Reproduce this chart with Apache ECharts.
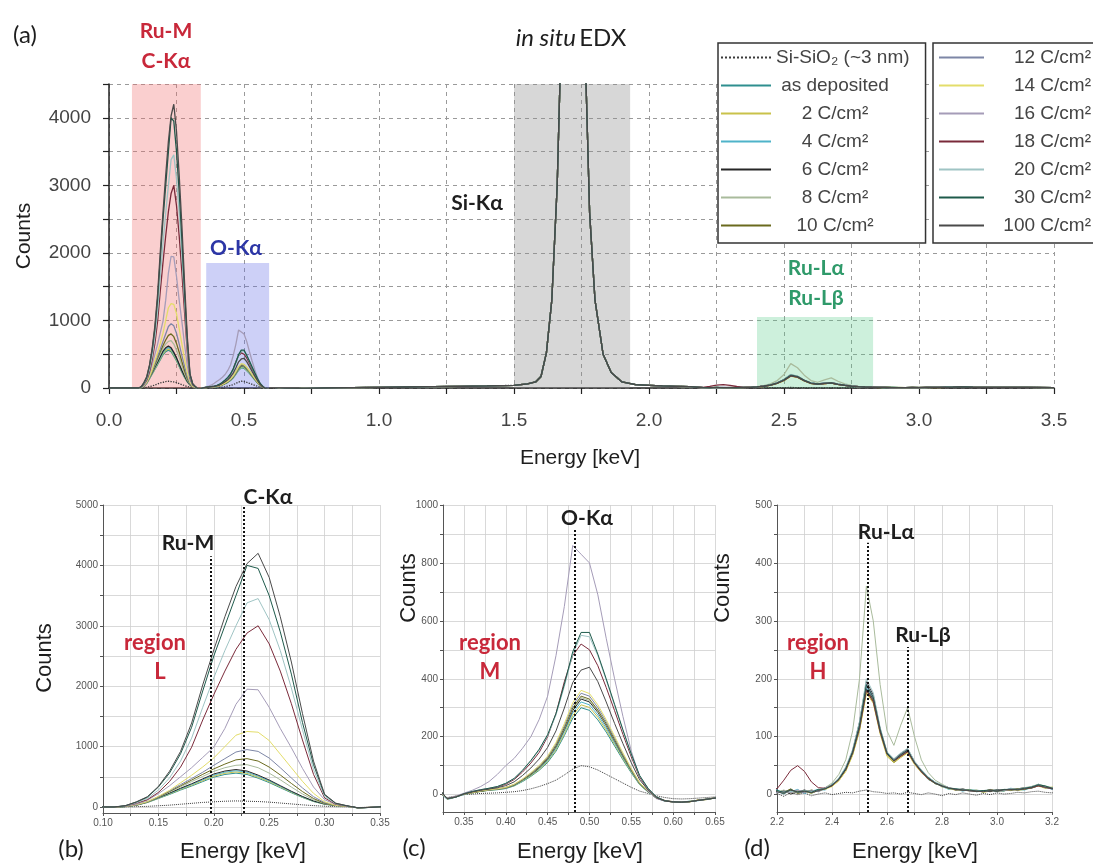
<!DOCTYPE html>
<html>
<head>
<meta charset="utf-8">
<script src="https://cdn.jsdelivr.net/npm/echarts@6/dist/echarts.min.js"></script>
<style>
  html, body { margin: 0; padding: 0; background: #fff; }
  #chart { width: 1093px; height: 868px; }
</style>
</head>
<body>
<div id="chart"></div>
<script>
// ---- energy grids (keV) ----
const energyLead = [0.00, 0.04, 0.08];
const countsLead = [0, 0, 0];
const energyC = [0.10, 0.11, 0.12, 0.13, 0.14, 0.15, 0.16, 0.17, 0.18, 0.19, 0.20, 0.21, 0.22,
                 0.23, 0.24, 0.25, 0.26, 0.27, 0.28, 0.29, 0.30, 0.31, 0.32];
const energyO = [0.33, 0.34, 0.35, 0.36, 0.37, 0.38, 0.39, 0.40, 0.41, 0.42, 0.43, 0.44, 0.45,
                 0.46, 0.47, 0.48, 0.49, 0.50, 0.51, 0.52, 0.53, 0.54, 0.55, 0.56, 0.57, 0.58,
                 0.59, 0.60, 0.61, 0.62, 0.63, 0.64, 0.65];
const energyMid = [0.70, 0.80, 0.90, 1.00, 1.10, 1.20, 1.30, 1.40, 1.50, 1.55, 1.58, 1.60, 1.62, 1.64,
                   1.66, 1.68, 1.72, 1.76, 1.78, 1.80, 1.83, 1.86, 1.90, 1.95, 2.00, 2.05, 2.10, 2.15];
const countsMid = [-8, 0, 5, 10, 15, 20, 25, 30, 40, 60, 90, 170, 520, 1300,
                   3000, 6000, 9000, 5500, 2600, 1300, 500, 230, 90, 50, 40, 30, 25, 20];
const energyRu = [2.200, 2.225, 2.250, 2.275, 2.300, 2.325, 2.350, 2.375, 2.400, 2.425, 2.450,
                  2.475, 2.500, 2.525, 2.550, 2.575, 2.600, 2.625, 2.650, 2.675, 2.700, 2.725,
                  2.750, 2.775, 2.800, 2.825, 2.850, 2.875, 2.900, 2.925, 2.950, 2.975, 3.000,
                  3.025, 3.050, 3.075, 3.100, 3.125, 3.150, 3.175, 3.200];
const energyTail = [3.30, 3.40, 3.50];
const countsTail = [10, 8, 6];

// ---- series names ----
const seriesNames = ['Si-SiO\u2082 (~3 nm)', 'as deposited', '2 C/cm\u00b2', '4 C/cm\u00b2', '6 C/cm\u00b2',
  '8 C/cm\u00b2', '10 C/cm\u00b2', '12 C/cm\u00b2', '14 C/cm\u00b2', '16 C/cm\u00b2', '18 C/cm\u00b2',
  '20 C/cm\u00b2', '30 C/cm\u00b2', '100 C/cm\u00b2'];

// ---- counts: C-K / Ru-M window (0.10-0.32 keV) ----
const cRef   = [0, 0, 2, 5, 10, 20, 30, 45, 60, 75, 85, 95, 100, 95, 90, 80, 65, 50, 35, 22, 12, 6, 3];
const cAsDep = [0, 0, 6, 28, 73, 140, 207, 280, 347, 420, 493, 538, 560, 538, 476, 403, 319, 235, 157, 90, 45, 22, 11];
const c2     = [0, 0, 6, 29, 75, 145, 215, 290, 360, 435, 510, 557, 580, 557, 493, 418, 331, 244, 162, 93, 46, 23, 12];
const c4     = [0, 0, 6, 30, 78, 150, 222, 300, 372, 450, 528, 576, 600, 576, 510, 432, 342, 252, 168, 96, 48, 24, 12];
const c6     = [0, 0, 6, 31, 81, 155, 229, 310, 384, 465, 546, 595, 620, 595, 527, 446, 353, 260, 174, 99, 50, 25, 12];
const c8     = [0, 0, 7, 30, 80, 160, 245, 335, 420, 505, 590, 650, 690, 700, 650, 560, 450, 330, 215, 120, 55, 25, 12];
const c10    = [0, 0, 7, 30, 82, 165, 255, 350, 445, 540, 630, 710, 780, 800, 760, 660, 530, 390, 255, 140, 62, 27, 12];
const c12    = [0, 0, 8, 32, 85, 170, 265, 370, 470, 575, 690, 800, 910, 950, 920, 810, 650, 480, 315, 170, 72, 30, 13];
const c14    = [0, 0, 12, 38, 88, 175, 275, 400, 525, 662, 812, 1000, 1188, 1250, 1238, 1100, 875, 650, 425, 225, 88, 25, 12];
const c16    = [0, 0, 15, 45, 110, 220, 350, 500, 650, 820, 990, 1300, 1700, 1950, 1940, 1650, 1300, 980, 640, 330, 120, 40, 15];
const c18    = [0, 0, 15, 60, 120, 240, 420, 660, 990, 1440, 1860, 2250, 2610, 2880, 3000, 2700, 2250, 1710, 1110, 540, 150, 45, 15];
const c20    = [0, 0, 17, 69, 140, 280, 480, 760, 1140, 1650, 2140, 2590, 3000, 3380, 3450, 3100, 2590, 1970, 1280, 620, 175, 52, 17];
const c30    = [0, 0, 20, 80, 160, 330, 560, 880, 1320, 1920, 2500, 3000, 3500, 4000, 3950, 3500, 2900, 2200, 1400, 700, 200, 60, 20];
const c100   = [0, 0, 21, 84, 170, 340, 590, 920, 1390, 2020, 2600, 3150, 3650, 4030, 4200, 3800, 3150, 2400, 1550, 760, 210, 63, 21];

// ---- counts: O-K window (0.33-0.65 keV) ----
const oRef   = [-10, -5, 0, 2, 4, 5, 6, 8, 10, 14, 20, 28, 38, 50, 68, 88, 100, 96, 85, 70, 55, 40, 25, 12, 4, -4, -10, -14, -15, -14, -12, -10, -8];
const oAsDep = [-15, -8, 1, 6, 11, 15, 17, 21, 30, 45, 63, 84, 111, 150, 204, 264, 300, 291, 258, 216, 168, 120, 75, 34, 9, -12, -22, -25, -26, -24, -20, -16, -12];
const o2     = [-13, -6, 1, 6, 11, 15, 18, 22, 31, 47, 65, 87, 115, 155, 211, 273, 310, 301, 267, 223, 174, 124, 78, 35, 10, -12, -20, -27, -24, -25, -18, -17, -10];
const o4     = [-17, -9, 0, 7, 12, 16, 18, 22, 32, 48, 67, 90, 118, 160, 218, 282, 320, 310, 275, 230, 179, 128, 80, 36, 10, -12, -23, -24, -27, -22, -21, -15, -13];
const o6     = [-14, -7, 2, 7, 12, 16, 19, 23, 33, 50, 69, 92, 122, 165, 224, 290, 330, 320, 284, 238, 185, 132, 83, 38, 11, -12, -21, -26, -25, -24, -19, -17, -11];
const o8     = [-16, -8, 1, 8, 13, 16, 19, 23, 34, 50, 70, 94, 124, 168, 228, 295, 335, 325, 288, 241, 188, 134, 84, 38, 11, -12, -22, -25, -27, -23, -20, -16, -12];
const o10    = [-15, -9, 2, 7, 12, 17, 19, 24, 34, 51, 71, 95, 126, 170, 231, 299, 340, 330, 292, 245, 190, 136, 85, 39, 11, -12, -21, -24, -26, -25, -19, -15, -12];
const o12    = [-14, -8, 2, 7, 13, 17, 20, 25, 35, 53, 74, 98, 130, 175, 238, 308, 350, 340, 301, 252, 196, 140, 88, 40, 12, -12, -22, -26, -25, -24, -20, -16, -11];
const o14    = [-15, -7, 2, 7, 13, 17, 20, 25, 36, 54, 76, 101, 133, 180, 245, 317, 360, 349, 310, 259, 202, 144, 90, 41, 12, -11, -22, -25, -26, -23, -20, -17, -12];
const o16    = [-12, -5, 5, 15, 28, 45, 70, 100, 125, 160, 200, 260, 340, 480, 650, 860, 830, 800, 690, 540, 400, 270, 150, 60, 12, -14, -22, -25, -26, -24, -20, -16, -12];
const o18    = [-14, -8, 3, 10, 16, 21, 26, 36, 52, 78, 109, 146, 200, 280, 390, 480, 520, 500, 445, 370, 290, 208, 130, 60, 20, -8, -20, -25, -26, -24, -20, -16, -12];
const o20    = [-15, -8, 3, 11, 17, 22, 28, 39, 55, 83, 116, 154, 204, 275, 374, 484, 550, 545, 480, 396, 308, 220, 138, 64, 22, -8, -21, -25, -26, -24, -20, -16, -12];
const o30    = [-14, -9, 3, 11, 17, 22, 28, 39, 56, 84, 118, 157, 207, 280, 381, 493, 560, 560, 485, 400, 312, 224, 140, 66, 22, -8, -21, -25, -26, -24, -20, -16, -12];
const o100   = [-14, -8, 2, 9, 15, 19, 24, 31, 44, 66, 92, 123, 163, 220, 299, 387, 430, 440, 390, 320, 246, 176, 110, 51, 16, -11, -22, -25, -26, -24, -20, -16, -12];

// ---- counts: Ru-L window (2.200-3.200 keV) ----
const ruRef   = [2, -3, 4, 0, 3, -2, 1, 3, 0, 2, 4, 3, 6, 8, 5, 4, 2, 3, 1, 4, 2, 0, 3, 1, -2, 2, 0, 3, 1, -1, 2, 0, 3, 1, 2, 4, 3, 5, 6, 4, 3];
const ruAsDep = [6, 1, 9, 3, 7, 2, 8, 11, 15, 27, 45, 75, 120, 190, 170, 112, 72, 60, 70, 78, 56, 41, 29, 19, 16, 10, 9, 7, 8, 5, 6, 8, 5, 9, 8, 9, 11, 13, 17, 12, 10];
const ru2     = [3, 6, 2, 7, 4, 8, 5, 12, 14, 24, 40, 68, 110, 175, 158, 105, 66, 55, 64, 72, 52, 38, 27, 21, 13, 12, 7, 9, 6, 8, 4, 6, 8, 6, 10, 7, 9, 14, 15, 11, 13];
const ru4     = [8, 3, 5, 9, 2, 6, 9, 8, 18, 25, 44, 70, 118, 185, 163, 108, 70, 57, 67, 75, 54, 39, 26, 20, 14, 9, 10, 6, 9, 7, 5, 9, 7, 6, 11, 9, 8, 12, 18, 14, 9];
const ru6     = [4, 7, 1, 5, 8, 4, 6, 12, 17, 28, 46, 76, 125, 195, 172, 114, 73, 61, 71, 79, 57, 42, 30, 21, 16, 12, 8, 10, 7, 6, 7, 5, 9, 8, 7, 10, 12, 11, 15, 13, 12];
const ru8     = [4, 8, 3, 6, 5, 7, 6, 12, 20, 35, 60, 110, 200, 360, 300, 190, 110, 85, 120, 150, 100, 60, 38, 25, 18, 12, 10, 9, 8, 7, 6, 8, 7, 8, 10, 9, 12, 14, 18, 15, 12];
const ru10    = [5, 4, 10, 2, 5, 7, 6, 11, 15, 26, 42, 70, 112, 180, 162, 108, 69, 56, 66, 74, 54, 40, 27, 19, 15, 11, 9, 8, 7, 6, 5, 8, 6, 7, 9, 10, 9, 12, 16, 12, 11];
const ru12    = [3, 5, 7, 6, 3, 8, 5, 10, 16, 27, 44, 73, 117, 188, 166, 110, 71, 59, 69, 77, 55, 41, 28, 20, 14, 12, 8, 9, 6, 7, 6, 7, 7, 8, 10, 8, 11, 13, 17, 14, 10];
const ru14    = [6, 3, 7, 5, 6, 2, 8, 9, 14, 24, 41, 69, 112, 178, 160, 106, 68, 57, 65, 73, 53, 38, 27, 20, 15, 10, 9, 8, 8, 6, 5, 9, 6, 8, 8, 9, 10, 12, 15, 13, 12];
const ru16    = [4, 6, 3, 8, 5, 6, 7, 12, 16, 28, 46, 74, 122, 192, 170, 112, 72, 60, 70, 78, 56, 41, 29, 21, 15, 11, 10, 8, 7, 7, 6, 8, 6, 7, 9, 9, 11, 13, 16, 12, 11];
const ru18    = [10, 25, 42, 50, 40, 22, 12, 11, 15, 26, 43, 72, 115, 180, 160, 108, 70, 58, 66, 74, 54, 39, 27, 20, 15, 12, 9, 8, 7, 6, 6, 8, 7, 8, 9, 9, 10, 12, 15, 13, 10];
const ru20    = [5, 3, 6, 4, 7, 5, 8, 11, 17, 29, 48, 78, 126, 200, 176, 116, 74, 62, 72, 80, 58, 43, 30, 22, 16, 12, 10, 9, 7, 8, 6, 7, 8, 7, 10, 9, 11, 14, 17, 14, 12];
const ru30    = [7, 4, 8, 5, 6, 4, 9, 10, 16, 27, 45, 74, 120, 190, 168, 112, 72, 59, 69, 77, 55, 41, 29, 20, 15, 11, 10, 8, 8, 6, 7, 8, 6, 9, 9, 9, 11, 13, 17, 15, 11];
const ru100   = [5, 2, 8, 4, 6, 3, 7, 10, 16, 26, 43, 72, 115, 182, 165, 110, 70, 58, 68, 76, 55, 40, 28, 20, 15, 11, 9, 8, 7, 6, 5, 7, 6, 8, 9, 8, 10, 12, 16, 13, 11];

const cWindows  = [cRef, cAsDep, c2, c4, c6, c8, c10, c12, c14, c16, c18, c20, c30, c100];
const oWindows  = [oRef, oAsDep, o2, o4, o6, o8, o10, o12, o14, o16, o18, o20, o30, o100];
const ruWindows = [ruRef, ruAsDep, ru2, ru4, ru6, ru8, ru10, ru12, ru14, ru16, ru18, ru20, ru30, ru100];

// ---- marked energy ranges and reference lines ----
const bandRanges = [
  { from: 0.085, to: 0.34, top: 4500 },
  { from: 0.36, to: 0.593, top: 1850 },
  { from: 1.50, to: 1.93, top: 4500 },
  { from: 2.40, to: 2.83, top: 1050 }
];
const peakLinesB = [{ e: 0.197, from: -100, to: 4150 }, { e: 0.227, from: -100, to: 5000 }];
const peakLinesC = [{ e: 0.483, from: -60, to: 920 }];
const peakLinesD = [{ e: 2.531, from: -30, to: 435 }, { e: 2.676, from: -30, to: 255 }];

// ---- styles ----
const lineColors = ['#3a3a3a', '#2f8f8f', '#c9c24a', '#4fb3c9', '#262626', '#a9bb9c', '#6a6a1e',
                    '#7d86a6', '#e3dd6a', '#a59cb8', '#7a2a3a', '#9fc4c4', '#1e5a4b', '#4a4a4a'];
const bandColors = ['rgba(240,110,110,0.33)', 'rgba(100,110,230,0.32)', 'rgba(140,140,140,0.35)', 'rgba(90,205,140,0.30)'];

function buildSpectrum(k) {
  const pts = [];
  energyLead.forEach((e, i) => pts.push([e, countsLead[i]]));
  energyC.forEach((e, i) => pts.push([e, cWindows[k][i]]));
  energyO.forEach((e, i) => pts.push([e, oWindows[k][i]]));
  energyMid.forEach((e, i) => pts.push([e, countsMid[i]]));
  energyRu.forEach((e, i) => pts.push([e, ruWindows[k][i]]));
  energyTail.forEach((e, i) => pts.push([e, countsTail[i]]));
  return pts;
}

const onStep = (v, step) => Math.abs(v / step - Math.round(v / step)) < 1e-6;
const range = (a, b, s) => { const r = []; for (let v = a; v <= b + 1e-9; v += s) r.push(+v.toFixed(6)); return r; };

const AX = '"Liberation Sans", Arial, sans-serif';
const ANN = 'Lato, "Open Sans", sans-serif';

// ---- axes ----
const panelAxisLine = { show: true, lineStyle: { color: '#555', width: 1 } };
const panelSplit = { show: true, lineStyle: { color: '#cfcfcf', width: 0.8 } };
const panelLabel = { fontSize: 10, color: '#555', fontFamily: AX, margin: 5 };

const xAxes = [
  { gridIndex: 0, type: 'value', min: 0, max: 3.5, interval: 0.25,
    axisLine: { show: true, onZero: false, lineStyle: { color: '#222', width: 1.5 } },
    axisTick: { show: true, length: 6, lineStyle: { color: '#222', width: 1.2 } },
    axisLabel: { formatter: v => onStep(v, 0.5) ? v.toFixed(1) : '', fontSize: 19, color: '#444', fontFamily: AX, margin: 23 },
    splitLine: { show: true, lineStyle: { color: '#9a9a9a', type: [4, 4], width: 1 } } },
  { gridIndex: 1, type: 'value', min: 0.1, max: 0.35, interval: 0.025,
    axisLine: Object.assign({ onZero: false }, panelAxisLine),
    axisTick: { show: true, length: 3, lineStyle: { color: '#555' } },
    axisLabel: Object.assign({ formatter: v => onStep(v, 0.05) ? v.toFixed(2) : '' }, panelLabel),
    splitLine: panelSplit },
  { gridIndex: 2, type: 'value', min: 0.325, max: 0.65, interval: 0.025,
    axisLine: Object.assign({ onZero: false }, panelAxisLine),
    axisTick: { show: true, length: 3, lineStyle: { color: '#555' } },
    axisLabel: Object.assign({ formatter: v => onStep(v, 0.05) ? v.toFixed(2) : '' }, panelLabel),
    splitLine: panelSplit },
  { gridIndex: 3, type: 'value', min: 2.2, max: 3.2, interval: 0.1,
    axisLine: Object.assign({ onZero: false }, panelAxisLine),
    axisTick: { show: true, length: 3, lineStyle: { color: '#555' } },
    axisLabel: Object.assign({ formatter: v => onStep(v, 0.2) ? v.toFixed(1) : '' }, panelLabel),
    splitLine: panelSplit }
];

const plainCount = v => String(Math.round(v));
const yAxes = [
  { gridIndex: 0, type: 'value', min: 0, max: 4500, interval: 500,
    axisLine: { show: true, lineStyle: { color: '#222', width: 1.5 } },
    axisTick: { show: true, length: 6, lineStyle: { color: '#222', width: 1.2 } },
    axisLabel: { formatter: v => v % 1000 === 0 ? String(v) : '', fontSize: 19, color: '#444', fontFamily: AX, margin: 18 },
    splitLine: { show: true, lineStyle: { color: '#9a9a9a', type: [4, 4], width: 1 } } },
  { gridIndex: 1, type: 'value', min: -100, max: 5000,
    axisLine: panelAxisLine,
    axisTick: { show: true, length: 3, customValues: range(0, 5000, 500), lineStyle: { color: '#555' } },
    axisLabel: Object.assign({ customValues: range(0, 5000, 1000), formatter: plainCount }, panelLabel),
    splitLine: panelSplit },
  { gridIndex: 2, type: 'value', min: -60, max: 1000,
    axisLine: panelAxisLine,
    axisTick: { show: true, length: 3, customValues: range(0, 1000, 100), lineStyle: { color: '#555' } },
    axisLabel: Object.assign({ customValues: range(0, 1000, 200), formatter: plainCount }, panelLabel),
    splitLine: panelSplit },
  { gridIndex: 3, type: 'value', min: -30, max: 500,
    axisLine: panelAxisLine,
    axisTick: { show: true, length: 3, customValues: range(0, 500, 50), lineStyle: { color: '#555' } },
    axisLabel: Object.assign({ customValues: range(0, 500, 100), formatter: plainCount }, panelLabel),
    splitLine: panelSplit }
];

// ---- series: every spectrum in the overview and the three close-ups ----
const series = [];
for (let g = 0; g < 4; g++) {
  seriesNames.forEach((name, k) => {
    series.push({
      type: 'line', name: name, xAxisIndex: g, yAxisIndex: g,
      data: buildSpectrum(k), showSymbol: false, symbol: 'none', silent: true,
      clip: true, z: 2,
      lineStyle: { color: lineColors[k], width: g === 0 ? 1.3 : 1, type: k === 0 ? 'dotted' : 'solid' },
      itemStyle: { color: lineColors[k] }
    });
  });
}

// translucent element windows laid over the overview spectra
series.push({
  type: 'line', xAxisIndex: 0, yAxisIndex: 0, data: [], silent: true, zlevel: 1, z: 5,
  markArea: {
    silent: true,
    data: bandRanges.map((b, i) => [
      { coord: [b.from, 0], itemStyle: { color: bandColors[i] } },
      { coord: [b.to, b.top] }
    ])
  }
});

function peakMarkers(gi, lines) {
  return {
    type: 'line', xAxisIndex: gi, yAxisIndex: gi, data: [], silent: true, z: 6,
    markLine: {
      silent: true, symbol: ['none', 'none'], label: { show: false },
      lineStyle: { type: [2, 2], color: '#111', width: 2 },
      data: lines.map(l => [{ coord: [l.e, l.from] }, { coord: [l.e, l.to] }])
    }
  };
}
series.push(peakMarkers(1, peakLinesB), peakMarkers(2, peakLinesC), peakMarkers(3, peakLinesD));

// ---- text annotations ----
function label(text, x, y, size, color, weight, family, rot) {
  return {
    type: 'text', x: x, y: y, rotation: rot || 0, silent: true, z: 100,
    style: {
      text: text, fill: color, fontSize: size, fontWeight: weight || 'normal',
      fontFamily: family || ANN, align: 'center', verticalAlign: 'middle',
      textAlign: 'center', textVerticalAlign: 'middle'
    }
  };
}
const RED = '#c8283a', BLUE = '#2c36a6', GREEN = '#2f9a6a', DARK = '#1e1e1e';
const graphics = [
  label('(a)', 25, 35, 24, DARK),
  {
    type: 'text', x: 571, y: 38, silent: true, z: 100,
    style: {
      text: '{i|in situ} {n|EDX}', align: 'center', verticalAlign: 'middle',
      textAlign: 'center', textVerticalAlign: 'middle',
      rich: {
        i: { fontStyle: 'italic', fontSize: 24, fontFamily: ANN, fill: DARK },
        n: { fontSize: 24, fontFamily: ANN, fill: DARK }
      }
    }
  },
  label('Ru-M', 166, 31, 21, RED, 'bold'),
  label('C-K\u03b1', 166, 61, 21, RED, 'bold'),
  label('O-K\u03b1', 236, 248, 21, BLUE, 'bold'),
  label('Si-K\u03b1', 477, 203, 21, DARK, 'bold'),
  label('Ru-L\u03b1', 816, 268, 21, GREEN, 'bold'),
  label('Ru-L\u03b2', 816, 298, 21, GREEN, 'bold'),
  label('Counts', 24, 236, 21, DARK, 'normal', AX, Math.PI / 2),
  label('Energy [keV]', 580, 458, 21, DARK, 'normal', AX),

  label('(b)', 71, 849, 24, DARK),
  label('Energy [keV]', 243, 852, 22, DARK, 'normal', AX),
  label('Counts', 45, 658, 22, DARK, 'normal', AX, Math.PI / 2),
  label('Ru-M', 188, 543, 21, DARK, 'bold'),
  label('C-K\u03b1', 268, 497, 21, DARK, 'bold'),
  label('region', 155, 643, 22, RED, 'bold'),
  label('L', 160, 672, 22, RED, 'bold'),

  label('(c)', 414, 848, 24, DARK),
  label('Energy [keV]', 580, 852, 22, DARK, 'normal', AX),
  label('Counts', 409, 588, 22, DARK, 'normal', AX, Math.PI / 2),
  label('O-K\u03b1', 587, 518, 21, DARK, 'bold'),
  label('region', 490, 643, 22, RED, 'bold'),
  label('M', 490, 672, 22, RED, 'bold'),

  label('(d)', 757, 848, 24, DARK),
  label('Energy [keV]', 915, 852, 22, DARK, 'normal', AX),
  label('Counts', 723, 588, 22, DARK, 'normal', AX, Math.PI / 2),
  label('Ru-L\u03b1', 886, 532, 21, DARK, 'bold'),
  label('Ru-L\u03b2', 923, 635, 21, DARK, 'bold'),
  label('region', 818, 643, 22, RED, 'bold'),
  label('H', 818, 672, 22, RED, 'bold')
];

// ---- legends (two framed columns, line keys only) ----
const legendText = { fontSize: 19, color: '#444', fontFamily: AX };
const hiddenMarker = { color: 'rgba(0,0,0,0)', borderColor: 'rgba(0,0,0,0)', borderWidth: 0, opacity: 0 };
const legends = [
  {
    left: 718, top: 43, orient: 'vertical', selectedMode: false,
    data: seriesNames.slice(0, 7),
    itemWidth: 50, itemHeight: 14, itemGap: 9,
    padding: [5, 16, 8, 2],
    itemStyle: hiddenMarker,
    backgroundColor: '#fff', borderColor: '#333', borderWidth: 1.5,
    formatter: n => (n === seriesNames[0] ? '{l|' + n + '}' : '{c|' + n + '}'),
    textStyle: Object.assign({}, legendText, {
      rich: {
        l: Object.assign({ width: 148, align: 'left' }, legendText),
        c: Object.assign({ width: 118, align: 'center' }, legendText)
      }
    })
  },
  {
    left: 933, top: 43, orient: 'vertical', selectedMode: false,
    data: seriesNames.slice(7),
    itemWidth: 45, itemHeight: 14, itemGap: 9,
    padding: [5, 4, 8, 5],
    itemStyle: hiddenMarker,
    backgroundColor: '#fff', borderColor: '#333', borderWidth: 1.5,
    formatter: n => '{r|' + n + '}',
    textStyle: Object.assign({}, legendText, {
      rich: { r: Object.assign({ width: 102, align: 'right' }, legendText) }
    })
  }
];

const chart = echarts.init(document.getElementById('chart'), null, { renderer: 'canvas' });
chart.setOption({
  animation: false,
  backgroundColor: '#fff',
  grid: [
    { left: 109, right: 39, top: 84, bottom: 480 },
    { left: 103, right: 713, top: 505, bottom: 55 },
    { left: 443, right: 378, top: 505, bottom: 56 },
    { left: 777, right: 41, top: 505, bottom: 56 }
  ],
  xAxis: xAxes,
  yAxis: yAxes,
  legend: legends,
  series: series,
  graphic: { elements: graphics }
});
</script>
</body>
</html>
